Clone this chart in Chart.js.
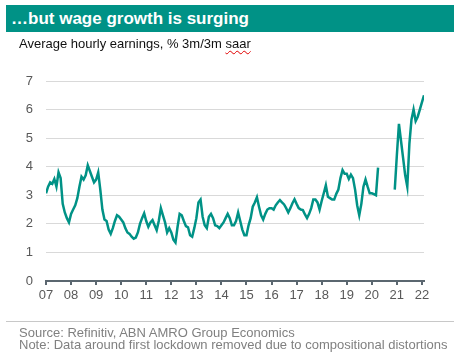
<!DOCTYPE html>
<html>
<head>
<meta charset="utf-8">
<script src="https://cdn.jsdelivr.net/npm/chart.js@4.4.1/dist/chart.umd.min.js"></script>
<style>
  body { margin: 0; background: #fff; font-family: "Liberation Sans", Arial, sans-serif; }
  #wrap { position: relative; width: 459px; height: 359px; overflow: hidden; }
  #chart { position: absolute; left: 0; top: 0; }
  .title { position: absolute; left: 6px; top: 5px; width: 448px; height: 27px; background: #009286;
           color: #fff; font-weight: bold; font-size: 17px; line-height: 27px; padding-left: 5px; box-sizing: border-box; }
  .subtitle { position: absolute; left: 19px; top: 36px; font-size: 13px; color: #111; }
  .subtitle span { text-decoration: underline wavy #e00000; text-decoration-thickness: 1px; text-underline-offset: 2px; }
  .sep { position: absolute; left: 6px; top: 321px; width: 448px; height: 1px; background: #c8c8c8; }
  .foot { position: absolute; left: 19px; font-size: 13px; color: #808080; white-space: nowrap; }
</style>
</head>
<body>
<div id="wrap">
  <canvas id="chart" width="459" height="359"></canvas>
  <div class="title">…but wage growth is surging</div>
  <div class="subtitle">Average hourly earnings, % 3m/3m <span>saar</span></div>
  <div class="sep"></div>
  <div class="foot" style="top:325px">Source: Refinitiv, ABN AMRO Group Economics</div>
  <div class="foot" style="top:337px">Note: Data around first lockdown removed due to compositional distortions</div>
</div>
<script>
// monthly, Jan 2007 .. Feb 2022 (null = removed around first lockdown)
let wage2007 = [3.07, 3.3, 3.45, 3.4, 3.57, 3.3, 3.8, 3.6, 2.7, 2.4, 2.2, 2.05];
let wage2008 = [2.35, 2.5, 2.65, 2.9, 3.3, 3.65, 3.55, 3.7, 4.05, 3.85, 3.65, 3.45];
let wage2009 = [3.55, 3.8, 3.2, 2.5, 2.15, 2.1, 1.8, 1.65, 1.85, 2.1, 2.3, 2.25];
let wage2010 = [2.15, 2.05, 1.85, 1.7, 1.65, 1.55, 1.48, 1.52, 1.7, 2.0, 2.2, 2.37];
let wage2011 = [2.1, 1.9, 2.05, 2.13, 1.95, 1.78, 2.1, 2.55, 2.3, 2.05, 1.7, 1.85];
let wage2012 = [1.7, 1.45, 1.35, 1.9, 2.35, 2.3, 2.1, 1.92, 1.88, 1.6, 1.55, 1.85];
let wage2013 = [2.2, 2.75, 2.85, 2.25, 1.95, 1.85, 2.25, 2.35, 2.2, 1.95, 1.92, 1.85];
let wage2014 = [1.95, 2.05, 2.2, 2.35, 2.2, 1.95, 1.95, 2.1, 2.4, 2.1, 1.8, 1.6];
let wage2015 = [1.6, 1.95, 2.2, 2.6, 2.75, 2.93, 2.6, 2.3, 2.15, 2.35, 2.5, 2.55];
let wage2016 = [2.55, 2.5, 2.65, 2.75, 2.83, 2.75, 2.68, 2.55, 2.4, 2.55, 2.72, 2.86];
let wage2017 = [2.7, 2.55, 2.5, 2.48, 2.33, 2.2, 2.35, 2.55, 2.85, 2.85, 2.75, 2.5];
let wage2018 = [2.8, 3.07, 3.35, 2.95, 2.9, 2.85, 2.85, 3.05, 3.2, 3.6, 3.88, 3.75];
let wage2019 = [3.75, 3.57, 3.72, 3.6, 3.2, 2.65, 2.3, 2.7, 3.3, 3.55, 3.3, 3.07];
let wage2020 = [3.07, 3.04, 3.0, 3.97, null, null, null, null, null, null, null, 3.2];
let wage2021 = [4.4, 5.5, 4.9, 4.3, 3.7, 3.3, 4.8, 5.65, 6.0, 5.6, 5.75, 6.0];
let wage2022 = [6.25, 6.5];

let tickLabels = ['07', '08', '09', '10', '11', '12', '13', '14', '15', '16', '17', '18', '19', '20', '21', '22'];

let wage = [].concat(wage2007, wage2008, wage2009, wage2010, wage2011, wage2012, wage2013, wage2014,
                     wage2015, wage2016, wage2017, wage2018, wage2019, wage2020, wage2021, wage2022);
let points = wage.map((v, i) => ({ x: i, y: v }));

let grey = '#595959';
let tickFont = { family: '"Liberation Sans", Arial, sans-serif', size: 13 };

new Chart(document.getElementById('chart'), {
  type: 'line',
  data: {
    datasets: [{
      data: points,
      borderColor: '#009286',
      borderWidth: 2.5,
      pointRadius: 0,
      tension: 0,
      spanGaps: false
    }]
  },
  options: {
    responsive: false,
    animation: false,
    layout: { padding: { top: 81, right: 35, left: 0, bottom: 0 } },
    plugins: { legend: { display: false }, tooltip: { enabled: false } },
    scales: {
      x: {
        type: 'linear',
        min: 0,
        max: wage.length - 1,
        afterFit: s => { s.height = 78; },
        // one tick per January
        afterBuildTicks: s => { s.ticks = tickLabels.map((t, i) => ({ value: i * 12 })); },
        border: { color: '#5b6770', width: 2 },
        grid: { drawOnChartArea: false, drawTicks: true, tickLength: 4, tickColor: '#5b6770', lineWidth: 2 },
        ticks: {
          autoSkip: false,
          maxRotation: 0,
          padding: 3,
          color: grey,
          font: tickFont,
          callback: v => tickLabels[Math.round(v / 12)]
        }
      },
      y: {
        min: 0,
        max: 7,
        afterFit: s => { s.width = 46; },
        border: { display: false },
        grid: { color: c => c.tick.value === 0 ? 'rgba(0,0,0,0)' : '#d9d9d9', lineWidth: 1, drawTicks: false },
        ticks: { stepSize: 1, padding: 13, color: grey, font: tickFont }
      }
    }
  }
});
</script>
</body>
</html>
